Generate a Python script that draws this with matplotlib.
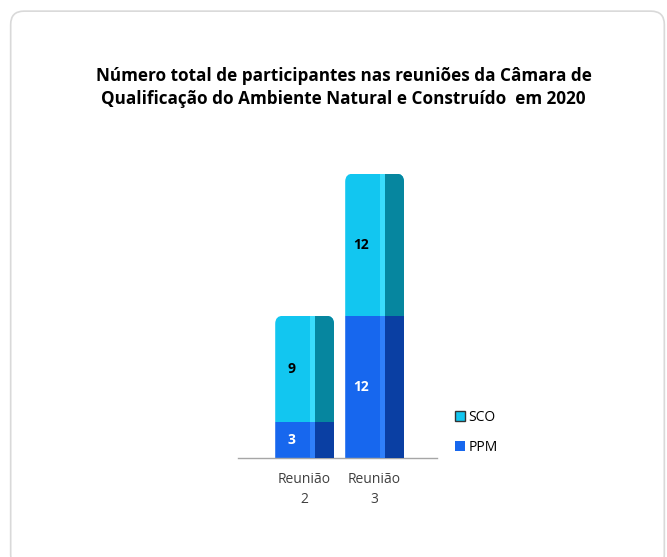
import matplotlib.pyplot as plt
from matplotlib.patches import FancyBboxPatch

plt.rcParams['font.family'] = ['Open Sans', 'DejaVu Sans']

categories = ['Reunião\n2', 'Reunião\n3']
ppm = [3, 12]
sco = [9, 12]
title = ('Número total de participantes nas reuniões da Câmara de\n'
         'Qualificação do Ambiente Natural e Construído  em 2020')

# main, highlight stripe, dark side
SCO_COLORS = ('#12c6f0', '#3adcfc', '#06869f')
PPM_COLORS = ('#1767ee', '#2f80fb', '#0a3fa3')

W = 0.84
fig = plt.figure(figsize=(6.67, 5.57), dpi=100)

# rounded outer frame
frame = FancyBboxPatch((0.016, -0.02), 0.98, 1.0, transform=fig.transFigure,
                       boxstyle='round,pad=0,rounding_size=0.02',
                       facecolor='none', edgecolor='#d9d9d9', linewidth=1.2,
                       mutation_aspect=667 / 557)
fig.patches.append(frame)

ax = fig.add_axes([0.357, 0.178, 0.298, 0.521])
ax.patch.set_alpha(0)
ax.set_xlim(-0.95, 1.89)
ax.set_ylim(0, 24.5)
x = list(range(len(categories)))
bottoms_sco = ppm

def shaded(vals, bottom, cols):
    main = ax.bar(x, vals, W, bottom=bottom, color=cols[0], linewidth=0, zorder=2)
    hl = ax.bar([i - W / 2 + W * 0.60 for i in x], vals, W * 0.07, bottom=bottom,
                align='edge', color=cols[1], linewidth=0, zorder=3)
    dk = ax.bar([i - W / 2 + W * 0.67 for i in x], vals, W * 0.33, bottom=bottom,
                align='edge', color=cols[2], linewidth=0, zorder=3)
    return [main, hl, dk]

groups = shaded(ppm, 0, PPM_COLORS) + shaded(sco, bottoms_sco, SCO_COLORS)

# round the top corners of every stacked bar
px_x = 0.298 * 667 / (1.89 + 0.95)
px_y = 0.521 * 557 / 24.5
for i in x:
    top = ppm[i] + sco[i]
    clip = FancyBboxPatch((i - W / 2, -2), W, top + 2,
                          boxstyle='round,pad=0,rounding_size=%f' % (8 / px_x),
                          mutation_aspect=px_x / px_y,
                          transform=ax.transData, facecolor='none', edgecolor='none')
    ax.add_patch(clip)
    for g in groups:
        g.patches[i].set_clip_path(clip)

for i in x:
    ax.text(i - 0.19, ppm[i] / 2, str(ppm[i]), ha='center', va='center',
            color='white', fontsize=10, fontweight='bold', zorder=5)
    ax.text(i - 0.19, ppm[i] + sco[i] / 2, str(sco[i]), ha='center', va='center',
            color='black', fontsize=10, fontweight='bold', zorder=5)

ax.set_xticks(x)
ax.set_xticklabels(categories, fontsize=10, color='#404040', linespacing=1.5)
ax.tick_params(axis='x', length=0, pad=10)
ax.set_yticks([])
for s in ['top', 'right', 'left']:
    ax.spines[s].set_visible(False)
ax.spines['bottom'].set_color('#a6a6a6')
ax.spines['bottom'].set_linewidth(1.0)

h_sco = plt.Rectangle((0, 0), 1, 1, facecolor=SCO_COLORS[0], edgecolor='#333333', linewidth=1.0)
h_ppm = plt.Rectangle((0, 0), 1, 1, facecolor=PPM_COLORS[0], edgecolor='none')
fig.legend([h_sco, h_ppm], ['SCO', 'PPM'], loc='upper left',
           bbox_to_anchor=(0.664, 0.287), frameon=False, fontsize=10,
           handlelength=0.7, handleheight=0.7, handletextpad=0.25, labelspacing=1.1)

fig.text(0.515, 0.88, title, ha='center', va='top', fontsize=12.3,
         fontweight='bold', color='black', linespacing=1.4)

fig.savefig('out.png', dpi=100)
